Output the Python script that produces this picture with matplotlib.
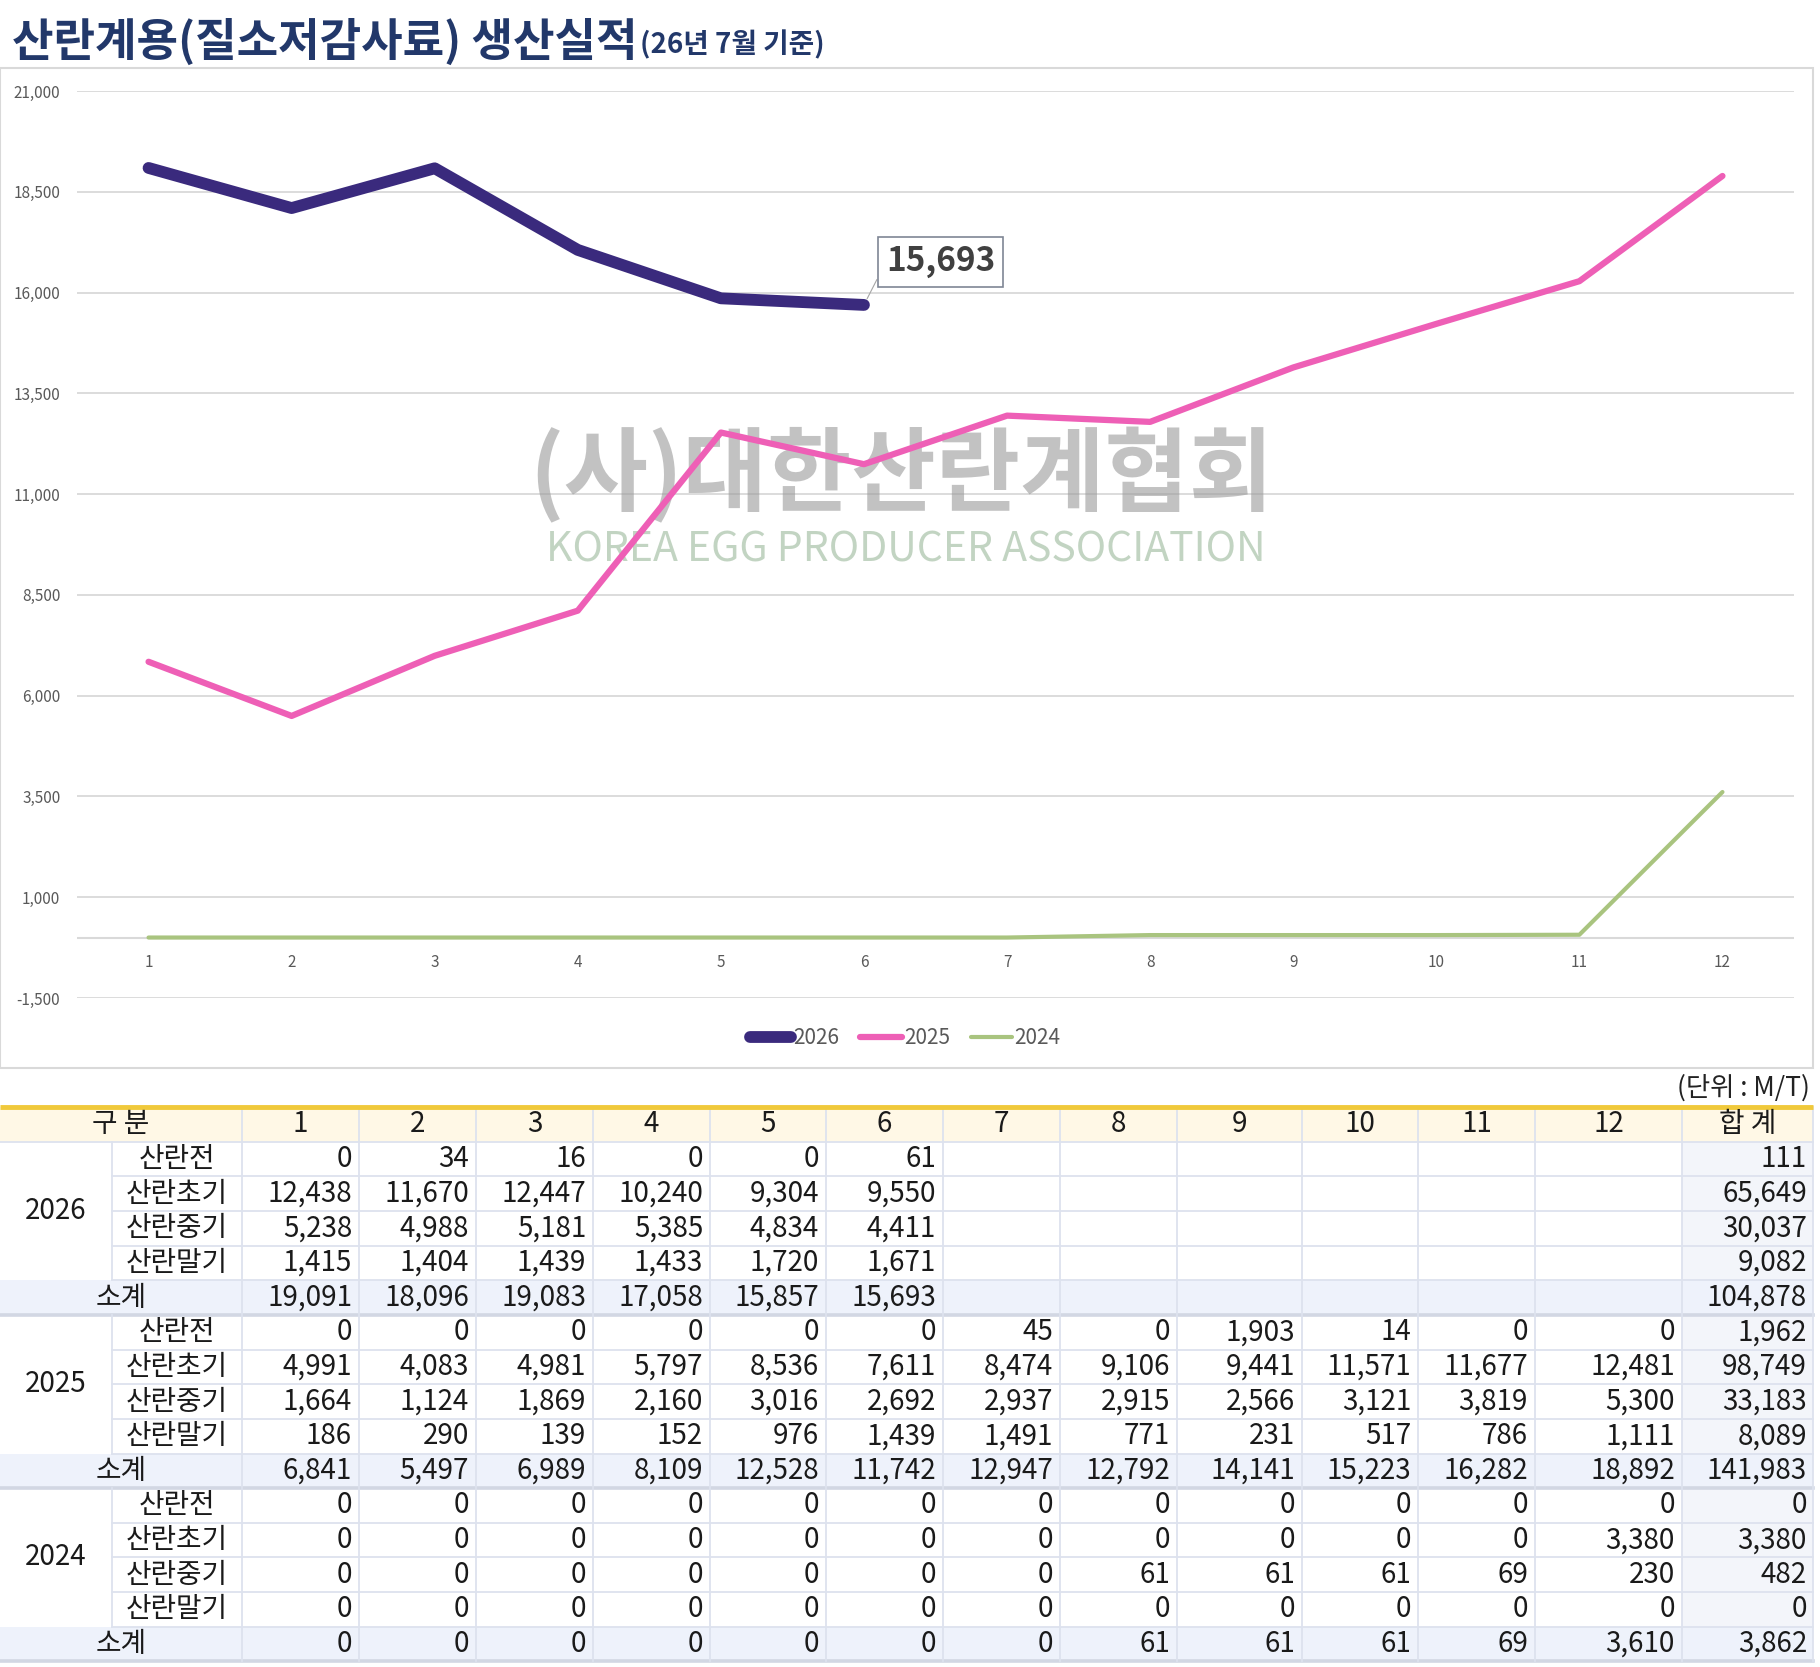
import matplotlib
matplotlib.use('Agg')
import matplotlib.pyplot as plt
from matplotlib.patches import Rectangle
from matplotlib.ticker import FuncFormatter
import numpy as np

plt.rcParams['font.family'] = ['Noto Sans CJK KR', 'DejaVu Sans']

# ---- data (M/T) ----
months = list(range(1, 13))
stages = ['산란전', '산란초기', '산란중기', '산란말기']
years = ['2026', '2025', '2024']

stage_2026 = [
    [0, 34, 16, 0, 0, 61],
    [12438, 11670, 12447, 10240, 9304, 9550],
    [5238, 4988, 5181, 5385, 4834, 4411],
    [1415, 1404, 1439, 1433, 1720, 1671],
]
sub_2026 = [19091, 18096, 19083, 17058, 15857, 15693]
stage_tot_2026 = [111, 65649, 30037, 9082]
sub_tot_2026 = 104878

stage_2025 = [
    [0, 0, 0, 0, 0, 0, 45, 0, 1903, 14, 0, 0],
    [4991, 4083, 4981, 5797, 8536, 7611, 8474, 9106, 9441, 11571, 11677, 12481],
    [1664, 1124, 1869, 2160, 3016, 2692, 2937, 2915, 2566, 3121, 3819, 5300],
    [186, 290, 139, 152, 976, 1439, 1491, 771, 231, 517, 786, 1111],
]
sub_2025 = [6841, 5497, 6989, 8109, 12528, 11742, 12947, 12792, 14141, 15223, 16282, 18892]
stage_tot_2025 = [1962, 98749, 33183, 8089]
sub_tot_2025 = 141983

stage_2024 = [
    [0, 0, 0, 0, 0, 0, 0, 0, 0, 0, 0, 0],
    [0, 0, 0, 0, 0, 0, 0, 0, 0, 0, 0, 3380],
    [0, 0, 0, 0, 0, 0, 0, 61, 61, 61, 69, 230],
    [0, 0, 0, 0, 0, 0, 0, 0, 0, 0, 0, 0],
]
sub_2024 = [0, 0, 0, 0, 0, 0, 0, 61, 61, 61, 69, 3610]
stage_tot_2024 = [0, 3380, 482, 0]
sub_tot_2024 = 3862

line_colors = {'2026': '#3a2a7d', '2025': '#ee5fb6', '2024': '#a9c47f'}

W, H = 1820, 1667
fig = plt.figure(figsize=(W / 100, H / 100), dpi=100)


def fx(px):
    return px / W


def fy(py):
    return 1 - py / H


# ---- title ----
t = fig.text(fx(12), fy(56), '산란계용(질소저감사료) 생산실적', fontsize=32.5, weight='heavy',
             color='#22386a', va='baseline')
fig.canvas.draw()
bb = t.get_window_extent(fig.canvas.get_renderer())
fig.text(bb.x1 / W + fx(3), fy(53), '(26년 7월 기준)', fontsize=20, weight='heavy',
         color='#22386a', va='baseline')

# chart frame
fig.add_artist(Rectangle((fx(0), fy(1068)), fx(1813), fy(68) - fy(1068),
                         transform=fig.transFigure, fill=False, ec='#d9d9d9', lw=1.5))

# ---- line chart ----
ax = fig.add_axes([fx(77), fy(998), fx(1794) - fx(77), fy(91) - fy(998)])
ax.set_xlim(0.5, 12.5)
ax.set_ylim(-1500, 21000)
ax.set_yticks(np.arange(-1500, 21001, 2500))
ax.yaxis.set_major_formatter(FuncFormatter(lambda v, p: f'{int(v):,}'))
ax.grid(axis='y', color='#d9d9d9', lw=1.3)
ax.set_axisbelow(True)
ax.axhline(0, color='#d9d9d9', lw=1.5, zorder=1)
for s in ax.spines.values():
    s.set_visible(False)
ax.tick_params(axis='y', length=0, pad=12, labelsize=11, labelcolor='#595959')
ax.set_xticks([])
for m in months:
    ax.annotate(str(m), (m, 0), xytext=(0, -18), textcoords='offset points',
                ha='center', va='center', fontsize=11, color='#595959')

# watermark
ax.text(fx(901), fy(476), '(사)대한산란계협회', transform=fig.transFigure, ha='center',
        va='center', fontsize=66, weight='bold', color='#9a9a9a', alpha=0.6, zorder=2)
ax.text(fx(906), fy(550), 'KOREA EGG PRODUCER ASSOCIATION', transform=fig.transFigure,
        ha='center', va='center', fontsize=29.5, color='#a9c2a9', alpha=0.7, zorder=2)

ax.plot(months[:len(sub_2026)], sub_2026, color=line_colors['2026'], lw=8.5,
        solid_capstyle='round', solid_joinstyle='round', label='2026', zorder=6)
ax.plot(months, sub_2025, color=line_colors['2025'], lw=4.5,
        solid_capstyle='round', solid_joinstyle='round', label='2025', zorder=5)
ax.plot(months, sub_2024, color=line_colors['2024'], lw=3,
        solid_capstyle='round', solid_joinstyle='round', label='2024', zorder=4)

ax.annotate(f'{sub_2026[-1]:,}', xy=(len(sub_2026), sub_2026[-1]), xytext=(6.535, 16760),
            ha='center', va='center', fontsize=24, weight='bold', color='#404040',
            bbox=dict(boxstyle='square,pad=0.25', fc='white', ec='#7f8695', lw=1.2),
            arrowprops=dict(arrowstyle='-', color='#a6a6a6', lw=0.8, shrinkA=0, shrinkB=5,
                            relpos=(0, 0.5)), zorder=7)

fig.legend(loc='center', bbox_to_anchor=(fx(905), fy(1038)), ncol=3, frameon=False,
           fontsize=15, labelcolor='#595959', handlelength=2.0, handletextpad=0.1,
           columnspacing=1.0)

# ---- table ----
fig.text(fx(1810), fy(1088), '(단위 : M/T)', ha='right', va='center', fontsize=19, color='#222222')

tax = fig.add_axes([0, fy(1667), 1, fy(1100) - fy(1667)])
tax.set_xlim(0, W)
tax.set_ylim(1667, 1100)
tax.axis('off')

col_edges = [0, 112, 242, 359, 476, 593, 710, 826, 943, 1060, 1177, 1302, 1418, 1535, 1682, 1813]
top = 1107
rh = 34.65
n_rows = 16
bottom = top + n_rows * rh
x_end = col_edges[-1]
grid_c = '#dde2ee'
fs = 20
txt_c = '#1a1a1a'


def ry(r):
    return top + r * rh


def rc(r):
    return top + (r + 0.5) * rh


# fills
tax.add_patch(Rectangle((0, ry(0)), x_end, rh, fc='#fff8e6', ec='none', zorder=1))
for g in range(3):
    r_sub = 1 + g * 5 + 4
    tax.add_patch(Rectangle((0, ry(r_sub)), x_end, rh, fc='#eef2fb', ec='none', zorder=1))
    tax.add_patch(Rectangle((col_edges[-2], ry(1 + g * 5)), x_end - col_edges[-2], 4 * rh,
                            fc='#f3f5fa', ec='none', zorder=1))

# grid lines
for g in range(3):
    r0 = 1 + g * 5
    for s in range(1, 5):
        tax.plot([col_edges[1], x_end], [ry(r0 + s)] * 2, color=grid_c, lw=1.3, zorder=2)
    tax.plot([0, x_end], [ry(r0 + 5)] * 2, color='#d2d7e3', lw=2.6, zorder=2)
    tax.plot([col_edges[1]] * 2, [ry(r0), ry(r0 + 4)], color=grid_c, lw=1.3, zorder=2)
tax.plot([0, x_end], [ry(1)] * 2, color=grid_c, lw=1.3, zorder=2)
for xe in col_edges[2:]:
    tax.plot([xe] * 2, [ry(0), bottom], color=grid_c, lw=1.3, zorder=2)
tax.plot([0, x_end], [top, top], color='#f0c93b', lw=3.5, zorder=3, solid_capstyle='butt')

# header text
lab_x = (col_edges[0] + col_edges[2]) / 2
tax.text(lab_x, rc(0), '구 분', ha='center', va='center', fontsize=fs, color=txt_c)
for i, m in enumerate(months):
    tax.text((col_edges[i + 2] + col_edges[i + 3]) / 2, rc(0), str(m), ha='center',
             va='center', fontsize=fs, color=txt_c)
tax.text((col_edges[-2] + col_edges[-1]) / 2, rc(0), '합 계', ha='center', va='center',
         fontsize=fs, color=txt_c)

groups = [
    (years[0], stage_2026, sub_2026, stage_tot_2026, sub_tot_2026),
    (years[1], stage_2025, sub_2025, stage_tot_2025, sub_tot_2025),
    (years[2], stage_2024, sub_2024, stage_tot_2024, sub_tot_2024),
]


def put_row(r, vals, total):
    for i, v in enumerate(vals):
        tax.text(col_edges[i + 3] - 7, rc(r), f'{v:,}', ha='right', va='center',
                 fontsize=fs, color=txt_c, zorder=4)
    tax.text(x_end - 6, rc(r), f'{total:,}', ha='right', va='center', fontsize=fs,
             color=txt_c, zorder=4)


for g, (yr, st, sub, st_tot, sub_tot) in enumerate(groups):
    r0 = 1 + g * 5
    tax.text((col_edges[0] + col_edges[1]) / 2, ry(r0) + 2 * rh, yr, ha='center',
             va='center', fontsize=fs, color=txt_c)
    for s, name in enumerate(stages):
        tax.text((col_edges[1] + col_edges[2]) / 2, rc(r0 + s), name, ha='center',
                 va='center', fontsize=fs, color=txt_c)
        put_row(r0 + s, st[s], st_tot[s])
    tax.text(lab_x, rc(r0 + 4), '소계', ha='center', va='center', fontsize=fs, color=txt_c)
    put_row(r0 + 4, sub, sub_tot)

fig.savefig('out.png', dpi=100)
